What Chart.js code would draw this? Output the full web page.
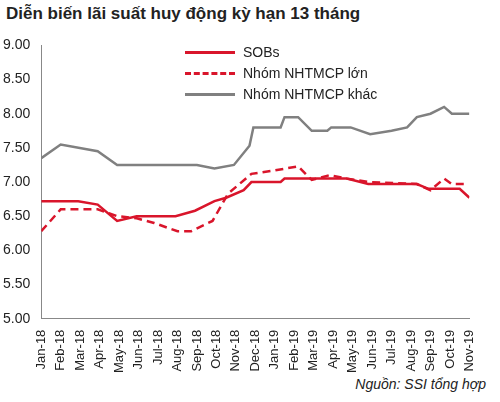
<!DOCTYPE html>
<html><head><meta charset="utf-8">
<script src="https://cdn.jsdelivr.net/npm/chart.js@4"></script>
<style>body{margin:0;background:#fff;font-family:Arial,"Liberation Sans",sans-serif}
#t{position:absolute;left:6px;top:4px;font-size:17px;font-weight:bold;color:#222}
#f{position:absolute;right:14px;top:376px;font-size:14px;font-style:italic;color:#222}
#w{position:absolute;left:0;top:34px;width:488px;height:342px}
#lg{position:absolute;left:185px;top:42px;font-size:14px;color:#222;line-height:21px;background:#fff}
#lg div{display:flex;align-items:center}
#lg span{display:inline-block;width:50px;margin-right:8px;border-top:3px solid #d9152b}</style></head>
<body><div id="t">Diễn biến lãi suất huy động kỳ hạn 13 tháng</div>
<div id="w"><canvas id="c"></canvas></div>
<div id="lg"><div><span></span>SOBs</div><div><span style="border-top-style:dashed"></span>Nhóm NHTMCP lớn</div><div><span style="border-top-color:#808080"></span>Nhóm NHTMCP khác</div></div>
<div id="f">Nguồn: SSI tổng hợp</div>
<script>
const monthLabels=["Jan-18","Feb-18","Mar-18","Apr-18","May-18","Jun-18","Jul-18","Aug-18","Sep-18","Oct-18","Nov-18","Dec-18","Jan-19","Feb-19","Mar-19","Apr-19","May-19","Jun-19","Jul-19","Aug-19","Sep-19","Oct-19","Nov-19"];
const sobsX=[0,1.9,2.9,3.9,4.9,6.9,7.9,8.9,9.5,10.4,10.8,12.3,12.5,15.7,16.8,19.3,19.9,21.5,22];
const sobsY=[6.72,6.72,6.67,6.43,6.5,6.5,6.58,6.72,6.77,6.88,7.0,7.0,7.05,7.05,6.97,6.97,6.9,6.9,6.77];
const bigX=[0,1,2.9,3.9,4.9,5.8,7,7.7,8.8,9.6,10.8,12,13.2,13.9,14.8,15.7,16.8,19.3,20,20.7,21.1,21.8];
const bigY=[6.28,6.6,6.6,6.5,6.47,6.4,6.28,6.28,6.43,6.83,7.12,7.17,7.23,7.03,7.1,7.05,7.0,6.97,6.88,7.05,6.97,6.97];
const otherX=[0,1,2.9,3.9,8,8.9,9.9,10.7,10.9,12.3,12.5,13.2,13.9,14.7,14.9,15.9,16.9,18,18.8,19.3,20,20.7,21.1,22];
const otherY=[7.35,7.55,7.45,7.25,7.25,7.2,7.25,7.53,7.8,7.8,7.95,7.95,7.75,7.75,7.8,7.8,7.7,7.75,7.8,7.95,8.0,8.1,8.0,8.0];
const pts=(xs,ys)=>xs.map((x,i)=>({x,y:ys[i]}));
new Chart(document.getElementById('c'),{type:'line',
data:{datasets:[
{label:'SOBs',data:pts(sobsX,sobsY),borderColor:'#d9152b',borderWidth:2.5,pointRadius:0,tension:0},
{label:'Nhóm NHTMCP lớn',data:pts(bigX,bigY),borderColor:'#d9152b',borderWidth:2.5,borderDash:[8,5],pointRadius:0,tension:0},
{label:'Nhóm NHTMCP khác',data:pts(otherX,otherY),borderColor:'#808080',borderWidth:2.5,pointRadius:0,tension:0}]},
options:{responsive:true,maintainAspectRatio:false,animation:false,
layout:{padding:{right:8,top:4}},
plugins:{legend:{display:false},tooltip:{enabled:false}},
scales:{x:{type:'linear',min:0,max:22,afterBuildTicks:a=>{a.ticks=monthLabels.map((_,i)=>({value:i}));},
ticks:{autoSkip:false,maxRotation:90,minRotation:90,color:'#222',font:{size:13},callback:v=>monthLabels[v]},
grid:{display:false,drawTicks:true},border:{color:'#888'}},
y:{min:5,max:9,ticks:{stepSize:0.5,color:'#222',font:{size:14},callback:v=>v.toFixed(2)},grid:{display:false},border:{color:'#888'}}}}});
</script></body></html>
